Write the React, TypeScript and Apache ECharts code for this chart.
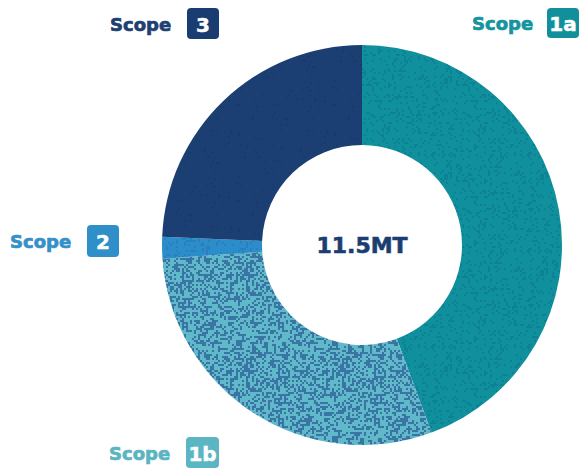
import React, { useEffect, useRef } from "react";
import * as echarts from "echarts";

const categories = ["Scope 1a", "Scope 1b", "Scope 2", "Scope 3"];
const badges = ["1a", "1b", "2", "3"];
const values = [5.1, 3.4, 0.2, 2.8];
const totalLabel = "11.5MT";

const segColors = ["#10909c", "#60b9c8", "#2b8ecb", "#1b3e73"];
const speckleColors = ["#0d8295", "#3a74a5", "#2a80bd", "#1a3a6c"];
const speckleDensity = [0.2, 0.42, 0.2, 0.05];
const labelColors = ["#14949f", "#5ab4c2", "#3590c8", "#1d3f72"];
const badgeColors = ["#11909c", "#5cb5c3", "#2e8fc9", "#1a3d71"];

const labelPos: Record<string, { tx: number; ty: number; bx: number; by: number; bw: number; bh: number }> = {
  "1a": { tx: 472, ty: 23, bx: 547, by: 8, bw: 32, bh: 30 },
  "1b": { tx: 109, ty: 453, bx: 186, by: 437, bw: 33, bh: 31 },
  "2": { tx: 10, ty: 241, bx: 87, by: 225, bw: 32, bh: 32 },
  "3": { tx: 110, ty: 24, bx: 187, by: 8, bw: 32, bh: 31 },
};

const FONT = "'DejaVu Sans', sans-serif";

// deterministic hash for a decorative grain texture (styling only)
function hash(x: number, y: number, s: number) {
  let h = (x * 374761393 + y * 668265263 + s * 2147483647) | 0;
  h = (h ^ (h >>> 13)) * 1274126177;
  h = h ^ (h >>> 16);
  return ((h >>> 0) % 10000) / 10000;
}

function makeTexture(base: string, speck: string, density: number, seed: number) {
  const size = 96;
  const c = document.createElement("canvas");
  c.width = size;
  c.height = size;
  const ctx = c.getContext("2d")!;
  ctx.fillStyle = base;
  ctx.fillRect(0, 0, size, size);
  ctx.fillStyle = speck;
  for (let y = 0; y < size; y += 2) {
    for (let x = 0; x < size; x += 2) {
      if (hash(x, y, seed) < density) {
        ctx.fillRect(x, y, 2, 2);
      }
    }
  }
  return c;
}

export default function App() {
  const ref = useRef<HTMLDivElement>(null);
  useEffect(() => {
    document.body.style.margin = "0";
    const chart = echarts.init(ref.current!, null, { renderer: "svg" });
    const graphics: any[] = [];
    categories.forEach((cat, i) => {
      const b = badges[i];
      const p = labelPos[b];
      graphics.push({
        type: "text",
        x: p.tx,
        y: p.ty,
        style: {
          text: cat.replace(" " + b, ""),
          fill: labelColors[i],
          stroke: labelColors[i],
          lineWidth: 0.7,
          font: `bold 18px ${FONT}`,
          textAlign: "left",
          textVerticalAlign: "middle",
        },
      });
      graphics.push({
        type: "rect",
        shape: { x: p.bx, y: p.by, width: p.bw, height: p.bh, r: 4 },
        style: { fill: badgeColors[i] },
      });
      graphics.push({
        type: "text",
        x: p.bx + p.bw / 2,
        y: p.by + p.bh / 2 + 1,
        style: {
          text: b,
          fill: "#ffffff",
          stroke: "#ffffff",
          lineWidth: 0.5,
          font: `bold 20px ${FONT}`,
          textAlign: "center",
          textVerticalAlign: "middle",
        },
      });
    });
    graphics.push({
      type: "text",
      x: 362,
      y: 245,
      style: {
        text: totalLabel,
        fill: "#1b3e72",
        stroke: "#1b3e72",
        lineWidth: 0.6,
        font: `bold 22px ${FONT}`,
        textAlign: "center",
        textVerticalAlign: "middle",
      },
    });

    chart.setOption({
      animation: false,
      backgroundColor: "#ffffff",
      series: [
        {
          type: "pie",
          center: [362, 245],
          radius: [100, 200],
          startAngle: 90,
          clockwise: true,
          label: { show: false },
          labelLine: { show: false },
          emphasis: { disabled: true },
          itemStyle: { borderWidth: 0 },
          data: categories.map((c, i) => ({
            name: c,
            value: values[i],
            itemStyle: {
              color: {
                image: makeTexture(segColors[i], speckleColors[i], speckleDensity[i], i + 1),
                repeat: "repeat",
              },
            },
          })),
        },
      ],
      graphic: graphics,
    });
    return () => chart.dispose();
  }, []);
  return <div ref={ref} style={{ width: 581, height: 468 }} />;
}
